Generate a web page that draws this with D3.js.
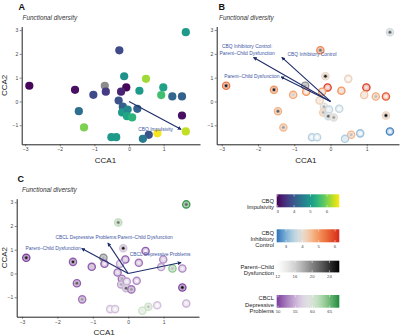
<!DOCTYPE html>
<html>
<head>
<meta charset="utf-8">
<script src="https://cdn.jsdelivr.net/npm/d3@7"></script>
<style>
html,body{margin:0;padding:0;background:#fff;}
svg{display:block;font-family:"Liberation Sans",Arial,sans-serif;}
</style>
</head>
<body>
<svg id="chart" width="400" height="336"></svg>
<script>
// ---------- data ----------
const cca1 = [-2.88,-1.56,-1.03,-1.45,-1.30,-0.70,-0.67,-0.28,-0.14,-0.08,-0.23,-0.30,-0.18,-0.20,-0.04,-0.06,0.09,0.24,0.30,0.49,0.99,0.93,1.25,1.53,1.53,1.64,1.64,0.82,0.57,0.40,-0.51,-0.37];
const cca2 = [0.66,0.49,0.28,-0.41,-1.09,0.66,0.41,2.15,1.06,0.59,0.41,0.04,-0.22,-0.46,-0.34,-0.62,-0.67,-0.31,0.45,0.95,0.59,0.27,0.21,0.21,-0.59,2.91,-1.26,-1.34,-1.40,-1.57,-1.50,-1.50];
const impulsivity = [3.0,3.1,3.8,4.3,6.0,null,3.6,3.8,4.85,3.0,3.3,3.9,4.1,5.0,4.7,5.2,5.4,4.1,5.0,6.2,5.1,5.6,4.2,4.1,3.1,5.0,6.4,6.7,3.9,4.5,5.0,5.0];
const inhibitory = [5.4,5.0,4.8,4.7,4.6,null,5.0,5.2,4.1,6.0,4.9,4.3,3.9,4.3,3.6,3.7,3.9,3.6,5.0,4.2,6.0,4.4,4.7,5.7,4.2,3.7,2.6,3.2,4.6,3.4,3.4,3.5];
const parentChild = [25,25,16,22,19,18,13,21,25,14,14,14,18,18,13,22,19,12,14,12,14,14,17,13,26,22,13,12,17,14,12,12];
const depressive = [50,51,51,51,52,null,51,62,56,51,54,52,52,54,54,55,52,53,52,51,53,54,64,53,50,67,55,56,61,61,56,56];

const xTicks = [-3,-2,-1,0,1];
const yTicks = [-1,0,1,2,3];

// biplot arrows: tip (x,y) and label position (lx,ly) in CCA units
const arrowsA = [{label:["CBQ Impulsivity"], x:1.50, y:-1.17, lx:0.77, ly:-1.17}];
const arrowsB = [
  {label:["CBQ Inhibitory Control:","Parent–Child Dysfunction"], x:-2.12, y:1.85, lx:-2.30, ly:2.17},
  {label:["CBQ Inhibitory Control"], x:-1.34, y:1.85, lx:-0.51, ly:2.00},
  {label:["Parent–Child Dysfunction"], x:-1.36, y:1.03, lx:-2.17, ly:1.06}
];
const arrowsC = [
  {label:["Parent–Child Dysfunction"], x:-1.31, y:1.05, lx:-2.12, ly:1.07},
  {label:["CBCL Depressive Problems:Parent–Child Dysfunction"], x:-0.57, y:1.28, lx:-0.40, ly:1.52},
  {label:["CBCL Depressive Problems"], x:1.49, y:0.46, lx:0.90, ly:0.79}
];

const impTicks = [3,4,5,6];
const inhTicks = [3,4,5,6];
const pcTicks = [12,16,20,24];
const depTicks = [50,55,60,65];

// ---------- colour scales ----------
const impScale = d3.scaleSequential(d3.interpolateViridis).domain([2.94,6.75]);
const inhScale = d3.scaleSequential(d3.interpolateRgbBasis(["#2b72b8","#9cc8e2","#efebe7","#f7ad74","#ee6a35","#d42a1c"])).domain([2.43,6.26]);
const pcScale = d3.scaleSequential(t => d3.interpolateGreys(t)).domain([11.77,26.3]);
const depScale = d3.scaleSequential(d3.interpolateRgbBasis(["#7b3a9c","#c3a6d2","#f2f0f2","#a8d9a0","#1e8a3c"])).domain([49.6,67.8]);
const naColor = "#8c8c8c";

const svg = d3.select("#chart");
const defs = svg.append("defs");
defs.append("marker").attr("id","ah").attr("viewBox","0 0 10 10")
  .attr("refX",8).attr("refY",5).attr("markerWidth",4).attr("markerHeight",4)
  .attr("markerUnits","userSpaceOnUse").attr("orient","auto")
  .append("path").attr("d","M0,0L10,5L0,10z").attr("fill","#1f2d6b");

const points = cca1.map((v,i)=>({x:v,y:cca2[i],imp:impulsivity[i],inh:inhibitory[i],pc:parentChild[i],dep:depressive[i]}));

const panels = [
  {letter:"A", lx:18.5, ly:10, fx:22.5, fy:19.5, xr:[21.7,200], xd:[-3.1,2.05], yr:[144.3,26.5], yd:[-1.80,3.15], ytitle:true, mode:"imp", arrows:arrowsA},
  {letter:"B", lx:218.5, ly:10, fx:219, fy:19.5, xr:[216.7,399], xd:[-3.14,1.89], yr:[144.3,26.5], yd:[-1.80,3.15], ytitle:false, mode:"inh", arrows:arrowsB},
  {letter:"C", lx:17.5, ly:182, fx:22, fy:192, xr:[16.7,199], xd:[-3.15,2.0], yr:[316.7,198.7], yd:[-1.82,3.15], ytitle:true, mode:"dep", arrows:arrowsC}
];

panels.forEach(p=>{
  const x = d3.scaleLinear().domain(p.xd).range(p.xr);
  const y = d3.scaleLinear().domain(p.yd).range(p.yr);
  const g = svg.append("g");

  g.append("text").attr("x",p.lx).attr("y",p.ly).text(p.letter)
    .attr("font-size",9).attr("font-weight","bold").attr("fill","#111");
  g.append("text").attr("x",p.fx).attr("y",p.fy).text("Functional diversity")
    .attr("font-size",6.4).attr("font-style","italic").attr("fill","#333");

  // axes
  const ax = g.append("g").attr("transform",`translate(0,${p.yr[0]})`)
    .call(d3.axisBottom(x).tickValues(xTicks).tickSize(2).tickSizeOuter(0).tickPadding(1.5).tickFormat(d3.format("d")));
  const ay = g.append("g").attr("transform",`translate(${p.xr[0]},0)`)
    .call(d3.axisLeft(y).tickValues(yTicks).tickSize(2).tickSizeOuter(0).tickPadding(1.5).tickFormat(d3.format("d")));
  [ax,ay].forEach(a=>{
    a.select(".domain").attr("stroke","#222").attr("stroke-width",1);
    a.selectAll(".tick line").attr("stroke","#333").attr("stroke-width",0.6);
    a.selectAll(".tick text").attr("font-size",5).attr("fill","#444").attr("font-family","Liberation Sans, Arial, sans-serif");
  });
  ax.selectAll(".tick text").text(d=>d<0?"−"+Math.abs(d):d);
  ay.selectAll(".tick text").text(d=>d<0?"−"+Math.abs(d):d);

  g.append("text").attr("x",x(-0.68)).attr("y",p.yr[0]+18.5).attr("text-anchor","middle")
    .text("CCA1").attr("font-size",8).attr("fill","#222");
  if(p.ytitle){
    const cy = (p.yr[0]+p.yr[1])/2;
    g.append("text").attr("transform",`translate(6.7,${cy}) rotate(-90)`).attr("text-anchor","middle")
      .text("CCA2").attr("font-size",8).attr("fill","#222");
  }

  // points
  const pg = g.append("g");
  points.forEach(d=>{
    const cx = x(d.x), cy = y(d.y);
    if(p.mode==="imp"){
      pg.append("circle").attr("cx",cx).attr("cy",cy).attr("r",4.1)
        .attr("fill", d.imp==null ? naColor : impScale(d.imp));
    } else {
      const v = p.mode==="inh" ? d.inh : d.dep;
      const sc = p.mode==="inh" ? inhScale : depScale;
      const rc = v==null ? naColor : sc(v);
      pg.append("circle").attr("cx",cx).attr("cy",cy).attr("r",3.6)
        .attr("fill","#fff");
      pg.append("circle").attr("cx",cx).attr("cy",cy).attr("r",3.6)
        .attr("fill",rc).attr("fill-opacity",0.35).attr("stroke",rc).attr("stroke-width",1.35);
      pg.append("circle").attr("cx",cx).attr("cy",cy).attr("r",2.3)
        .attr("fill",pcScale(d.pc)).attr("fill-opacity",0.3);
      pg.append("circle").attr("cx",cx).attr("cy",cy).attr("r",1.2)
        .attr("fill",pcScale(d.pc));
    }
  });

  // arrows
  p.arrows.forEach(a=>{
    g.append("line").attr("x1",x(0)).attr("y1",y(0)).attr("x2",x(a.x)).attr("y2",y(a.y))
      .attr("stroke","#1f2d6b").attr("stroke-width",1.1).attr("marker-end","url(#ah)");
  });
  p.arrows.forEach(a=>{
    const t = g.append("text").attr("text-anchor","middle").attr("font-size",4.9).attr("fill","#3d55a3");
    const n = a.label.length;
    a.label.forEach((s,i)=>{
      t.append("tspan").attr("x",x(a.lx)).attr("y",y(a.ly) + 1.7 + (i-(n-1)/2)*6.8).text(s);
    });
  });
});

// ---------- colour bars ----------
const legends = [
  {title:["CBQ","Impulsivity"], scale:impScale, ticks:impTicks, y:194.3, h:13},
  {title:["CBQ","Inhibitory","Control"], scale:inhScale, ticks:inhTicks, y:229.3, h:13},
  {title:["Parent–Child","Dysfunction"], scale:pcScale, ticks:pcTicks, y:260.7, h:11.7},
  {title:["CBCL","Depressive","Problems"], scale:depScale, ticks:depTicks, y:295, h:12.7}
];
const bx0 = 276.7, bx1 = 339.3;
legends.forEach((L,li)=>{
  const dom = L.scale.domain();
  const lx = d3.scaleLinear().domain(dom).range([bx0,bx1]);
  const gid = "grad"+li;
  const grad = defs.append("linearGradient").attr("id",gid).attr("x1","0%").attr("x2","100%");
  d3.range(0,1.0001,0.05).forEach(t=>{
    grad.append("stop").attr("offset",(t*100)+"%").attr("stop-color",L.scale(dom[0]+t*(dom[1]-dom[0])));
  });
  const g = svg.append("g");
  g.append("rect").attr("x",bx0).attr("y",L.y).attr("width",bx1-bx0).attr("height",L.h).attr("fill",`url(#${gid})`);
  L.ticks.forEach(v=>{
    const tx = lx(v);
    g.append("line").attr("x1",tx).attr("x2",tx).attr("y1",L.y).attr("y2",L.y+2.2).attr("stroke","#fff").attr("stroke-width",0.5);
    g.append("line").attr("x1",tx).attr("x2",tx).attr("y1",L.y+L.h-2.2).attr("y2",L.y+L.h).attr("stroke","#fff").attr("stroke-width",0.5);
    g.append("text").attr("x",tx).attr("y",L.y+L.h+5.6).attr("text-anchor","middle")
      .attr("font-size",4.3).attr("fill","#444").text(v);
  });
  const n = L.title.length;
  const cy = L.y + L.h/2 + 3.2;
  const tt = g.append("text").attr("text-anchor","end").attr("font-size",5.8).attr("fill","#222");
  L.title.forEach((s,i)=>{
    tt.append("tspan").attr("x",274).attr("y",cy + 2 + (i-(n-1)/2)*6.4).text(s);
  });
});
</script>
</body>
</html>
